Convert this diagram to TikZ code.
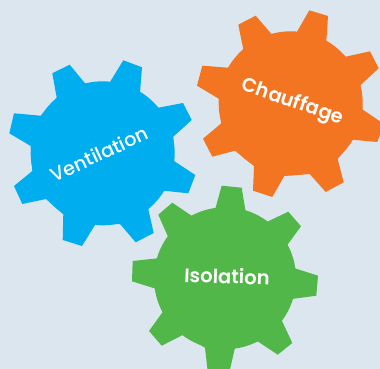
\documentclass[tikz,border=0pt]{standalone}
\usepackage{fontspec}
\setmainfont{Poppins}
\newfontface\gearmedium{Poppins Medium}
\newfontface\gearsemi{Poppins SemiBold}
\definecolor{bgpale}{HTML}{DCE6EF}
\definecolor{gearblue}{HTML}{00AEEF}
\definecolor{gearorange}{HTML}{F47521}
\definecolor{geargreen}{HTML}{50B748}
\tikzset{gearlabel/.style={text=white, inner sep=0pt}}
\begin{document}
\begin{tikzpicture}[x=1pt,y=-1pt]
	% Page
	\useasboundingbox (0,0) rectangle (380,369);
	\clip (0,0) rectangle (380,369);
	\fill[bgpale] (0,0) rectangle (380,369);
	
	% Blue gear
	\fill[gearblue] (102.7,153.3) circle (72);
	\fill[gearblue] (40.7,115.7) -- (14,113.3) -- (9.3,133.3) -- (30.7,146) -- (32.3,171) -- (14,186) -- (22.3,204) -- (46,199)
		-- (63.3,214.3) -- (62.7,240) -- (82,246) -- (95,225) -- (120,224) -- (135.7,242.3) -- (153.7,233) -- (148.3,209.3)
		-- (163.7,190.7) -- (188.3,193.3) -- (195.3,175) -- (174,161) -- (173.3,136.7) -- (191.7,120) -- (183,103) -- (158.3,107.7)
		-- (140,92.7) -- (142,67.3) -- (123.3,60.3) -- (110,82) -- (85,83.3) -- (69.7,64.7) -- (52.3,73.3) -- (56.7,97.7) -- cycle;
	
	% Orange gear
	\fill[gearorange] (290.7,103.3) circle (72);
	\fill[gearorange] (228,67.7) -- (202.3,65.7) -- (197,85.7) -- (218.7,98.7) -- (221.3,123.3) -- (203,138.7) -- (212.3,156.7) -- (235,150.7)
		-- (254,166) -- (253,190.7) -- (272.3,197) -- (284.3,176) -- (309.7,174) -- (325.7,192) -- (343.7,182.3) -- (337.7,159)
		-- (352.3,139.7) -- (377.3,142) -- (384,124) -- (362.3,109.3) -- (360.3,85.3) -- (378.7,68.3) -- (370,51.3) -- (345.7,56.7)
		-- (326.3,42) -- (328,16) -- (309.3,10.3) -- (296.7,32.3) -- (271.7,34.3) -- (255.7,15.7) -- (238.3,24.7) -- (243.3,49.3) -- cycle;
	
	% Green gear
	\fill[geargreen] (225,278.3) circle (71);
	\fill[geargreen] (157.7,258.3) -- (132.7,261) -- (132,281.3) -- (155.7,288.7) -- (162.7,312) -- (149,331) -- (161.7,345.7) -- (182.7,335)
		-- (205,347.7) -- (208.3,376.7) -- (228.3,376.7) -- (235,347.7) -- (257.7,341.3) -- (277.7,354.7) -- (292.3,343) -- (281.7,320.3)
		-- (291.7,299) -- (316.3,295.7) -- (318,275.7) -- (294,268) -- (287.3,245) -- (301,226.3) -- (288.3,211.7) -- (267.3,221.7)
		-- (245.7,212) -- (241.7,187.7) -- (221.7,185.7) -- (215,210) -- (192,216) -- (172.3,202.7) -- (158.3,214.7) -- (168,236.7) -- cycle;
	
	% Labels
	\node[gearlabel, rotate=25, font=\gearmedium\fontsize{19.2}{22}\selectfont] (ventilation) at (99,154) {Ventilation};
	\node[gearlabel, rotate=-19, font=\gearsemi\fontsize{19.5}{22}\selectfont] (chauffage) at (292.5,102.5) {Chauffage};
	\node[gearlabel, rotate=-2, font=\gearsemi\fontsize{19.5}{22}\selectfont] (isolation) at (227,276) {Isolation};
\end{tikzpicture}
\end{document}
